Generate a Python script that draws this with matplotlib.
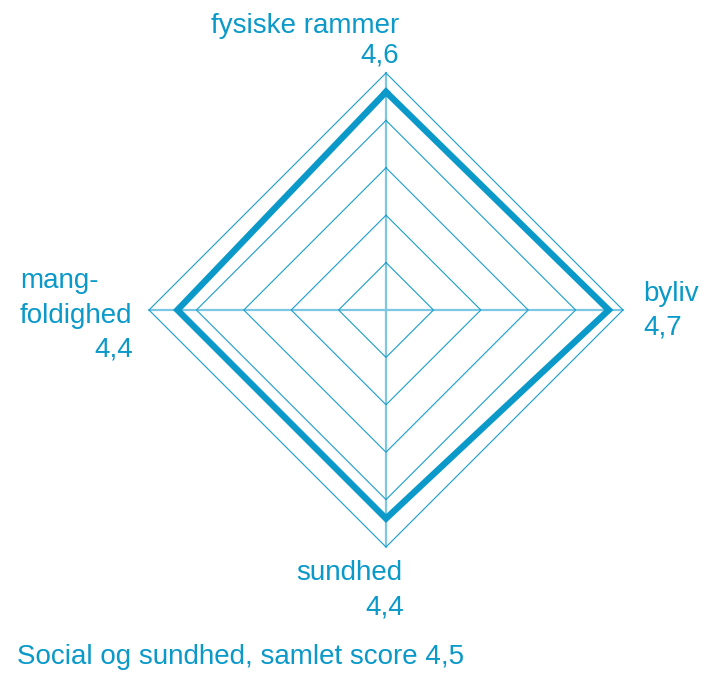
import numpy as np
import matplotlib.pyplot as plt

plt.rcParams["font.family"] = ["Liberation Sans", "DejaVu Sans"]

# chart data
categories = ["fysiske rammer", "byliv", "sundhed", "mangfoldighed"]
scores = [4.6, 4.7, 4.4, 4.4]
score_labels = ["4,6", "4,7", "4,4", "4,4"]
grid_levels = [1, 2, 3, 4, 5]
title = "Social og sundhed, samlet score 4,5"

BLUE = "#0a99c8"
GRID = "#1a9dcc"
SPOKE = "#7cc8e4"

W, H = 702, 676
CX, CY = 386, 310          # centre of the diamond in pixels
UNIT = 47.4                # pixels per score point

fig = plt.figure(figsize=(W / 100, H / 100), dpi=100)
ax = fig.add_axes([0, 0, 1, 1])
ax.set_xlim(-CX / UNIT, (W - CX) / UNIT)
ax.set_ylim(-(H - CY) / UNIT, CY / UNIT)
ax.set_aspect("equal")
ax.axis("off")

# clockwise from top
angles = np.pi / 2 - np.arange(len(categories)) * 2 * np.pi / len(categories)
ux, uy = np.cos(angles), np.sin(angles)

# spokes
for x, y in zip(ux, uy):
    ax.plot([0, x * 5], [0, y * 5], color=SPOKE, lw=1.6, zorder=1)

# diamond grid
for r in grid_levels:
    gx = np.append(ux * r, ux[0] * r)
    gy = np.append(uy * r, uy[0] * r)
    ax.plot(gx, gy, color=GRID, lw=0.8, zorder=2)

# data polygon
s = np.array(scores)
px = np.append(ux * s, ux[0] * s[0])
py = np.append(uy * s, uy[0] * s[0])
ax.plot(px, py, color=BLUE, lw=4.6, solid_joinstyle="miter", zorder=3)


def label(text, x, y, ha):
    fig.text(x / W, 1 - y / H, text, ha=ha, va="baseline",
             fontsize=20, color=BLUE)


# axis labels (pixel positions, baselines)
label("fysiske rammer", 399, 33, "right")
label(score_labels[0], 399, 63, "right")
label(categories[1], 643, 301, "left")
label(score_labels[1], 643, 334, "left")
label(categories[2], 296, 580, "left")
label(score_labels[2], 404, 615, "right")
label("mang-", 20, 288, "left")
label("foldighed", 20, 323, "left")
label(score_labels[3], 133, 357, "right")

label(title, 17, 664, "left")

fig.savefig("out.png", dpi=100)
